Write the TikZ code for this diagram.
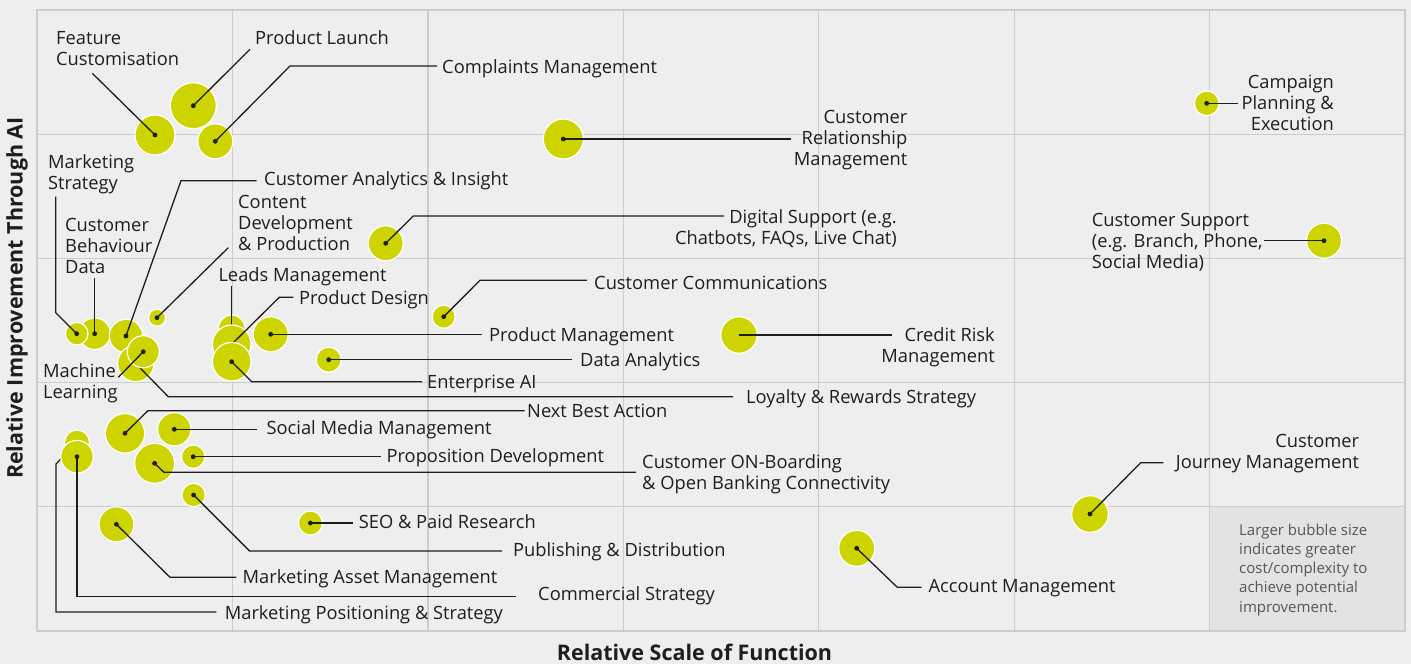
\documentclass[tikz,border=0pt]{standalone}
\usepackage{fontspec}
\setmainfont{Open Sans}
\definecolor{bg}{HTML}{EEEEEE}
\definecolor{gridc}{HTML}{CCCCCC}
\definecolor{notebg}{HTML}{E3E3E3}
\definecolor{bubc}{RGB}{205,212,0}
\definecolor{ink}{HTML}{1E1E1E}
\definecolor{notetext}{HTML}{555555}
\newcommand\bub[4]{\node[bubble, minimum size={2*#4pt}] (#1) at (#2,#3) {};}
\newcommand\bdot[1]{\fill[ink] (#1.center) circle (2.4pt);}
\begin{document}
\begin{tikzpicture}[x=1pt,y=-1pt,
  bubble/.style={circle, fill=bubc, draw=white, line width=1.2pt, inner sep=0pt, outer sep=0pt},
  lead/.style={draw=ink, line width=1.3pt},
  lab/.style={text=ink, inner sep=0pt, font=\fontsize{18.3}{21}\selectfont},
  labl/.style={lab, anchor=base west, align=left},
  labr/.style={lab, anchor=base east, align=right},
  gridl/.style={draw=gridc, line width=1.2pt},
  axl/.style={text=ink, inner sep=0pt, font=\fontsize{21.5}{26}\selectfont\bfseries},
  notet/.style={text=notetext, inner sep=0pt, anchor=base west, align=left, font=\fontsize{15}{19.3}\selectfont}
]
\useasboundingbox (0,0) rectangle (1411,664);
\fill[bg] (0,0) rectangle (1411,664);
\fill[notebg] (1209.6,506.8) rectangle (1405,631);
\foreach \x in {232.4,427.9,623.3,818.7,1014.1,1209.6} \draw[gridl] (\x,10) -- (\x,631);
\foreach \y in {134.2,258.4,382.6,506.8} \draw[gridl] (37,\y) -- (1405,\y);
\draw[gridl] (37,10) rectangle (1405,631);

% axis labels
\node[axl, anchor=base] (xlab) at (694.5,660) {Relative Scale of Function};
\node[axl, rotate=90] (ylab) at (17,298) {Relative Improvement Through AI};

% note
\node[notet] (note) at (1239,612.2) {Larger bubble size\\indicates greater\\cost/complexity to\\achieve potential\\improvement.};

% Feature Customisation
\bub{fc}{155}{135}{20}
\coordinate (fc-e) at (92.3,73.3);
\draw[lead] (fc.center) -- (fc-e);
\bdot{fc}
\node[labl] (fc-t) at (56,65.5) {Feature\\Customisation};

% Product Launch
\bub{pl}{193.3}{105.7}{23}
\coordinate (pl-e) at (250,49.3);
\draw[lead] (pl.center) -- (pl-e);
\bdot{pl}
\node[labl] (pl-t) at (255,44.5) {Product Launch};

% Complaints Management
\bub{cm}{215.3}{141.3}{17.5}
\coordinate (cm-k) at (290,66);
\coordinate (cm-e) at (437,66);
\draw[lead] (cm.center) -- (cm-k) -- (cm-e);
\bdot{cm}
\node[labl] (cm-t) at (442,73.5) {Complaints Management};

% Customer Relationship Management
\bub{crm}{563.3}{139}{20}
\coordinate (crm-e) at (791,139);
\draw[lead] (crm.center) -- (crm-e);
\bdot{crm}
\node[labr] (crm-t) at (907.5,165.5) {Customer\\Relationship\\Management};

% Campaign Planning & Execution
\bub{cpe}{1206.7}{103.3}{12.3}
\coordinate (cpe-e) at (1238.3,103.3);
\draw[lead] (cpe.center) -- (cpe-e);
\bdot{cpe}
\node[labr] (cpe-t) at (1334,130.5) {Campaign\\Planning \&\\Execution};

% Customer Support
\bub{cs}{1324}{240.7}{17.5}
\coordinate (cs-e) at (1263.5,240.7);
\draw[lead] (cs.center) -- (cs-e);
\bdot{cs}
\node[labl] (cs-t) at (1091.7,268.5) {Customer Support\\(e.g. Branch, Phone,\\Social Media)};

% Digital Support
\bub{ds}{385.7}{243.3}{17.5}
\coordinate (ds-k) at (413.3,216);
\coordinate (ds-e) at (724,216);
\draw[lead] (ds.center) -- (ds-k) -- (ds-e);
\bdot{ds}
\node[labr] (ds-t) at (897,244) {Digital Support (e.g.\\Chatbots, FAQs, Live Chat)};

% Customer Communications
\bub{cc}{443.7}{316.7}{11.5}
\coordinate (cc-k) at (480,280.3);
\coordinate (cc-e) at (587,280.3);
\draw[lead] (cc.center) -- (cc-k) -- (cc-e);
\bdot{cc}
\node[labl] (cc-t) at (594,289) {Customer Communications};

% Customer Behaviour Data
\bub{cbd}{94.7}{333.7}{15.8}
\coordinate (cbd-e) at (94.7,278.3);
\draw[lead] (cbd.center) -- (cbd-e);
\bdot{cbd}
\node[labl] (cbd-t) at (65,273) {Customer\\Behaviour\\Data};

% Marketing Strategy
\bub{ms}{76.7}{333.7}{11.3}
\coordinate (ms-k) at (55.7,312.7);
\coordinate (ms-e) at (55.7,196.7);
\draw[lead] (ms.center) -- (ms-k) -- (ms-e);
\bdot{ms}
\node[labl] (ms-t) at (48,189.5) {Marketing\\Strategy};

% Customer Analytics & Insight
\bub{cai}{126}{336}{16.7}
\coordinate (cai-k) at (181,180.7);
\coordinate (cai-e) at (256.7,180.7);
\draw[lead] (cai.center) -- (cai-k) -- (cai-e);
\bdot{cai}
\node[labl] (cai-t) at (264,185.5) {Customer Analytics \& Insight};

% Content Development & Production
\bub{cdp}{157}{317.7}{8.5}
\coordinate (cdp-e) at (228.3,247.7);
\draw[lead] (cdp.center) -- (cdp-e);
\bdot{cdp}
\node[labl] (cdp-t) at (238,250) {Content\\Development\\\& Production};

% Loyalty & Rewards Strategy
\bub{lrs}{135.8}{363.5}{18.2}
\coordinate (lrs-k) at (168.3,396.7);
\coordinate (lrs-e) at (733,396.7);
\draw[lead] (lrs.center) -- (lrs-k) -- (lrs-e);
\bdot{lrs}
\node[labl] (lrs-t) at (746,403) {Loyalty \& Rewards Strategy};

% Machine Learning
\bub{ml}{143.3}{351.7}{16}
\coordinate (ml-e) at (118.3,377.3);
\draw[lead] (ml.center) -- (ml-e);
\bdot{ml}
\node[labl] (ml-t) at (43,398) {Machine\\Learning};

% Leads Management
\bub{lm}{231.7}{328.3}{13.3}
\coordinate (lm-e) at (231.7,286);
\draw[lead] (lm.center) -- (lm-e);
\bdot{lm}
\node[labl] (lm-t) at (218.3,281.5) {Leads Management};

% Product Design
\bub{pd}{231.7}{344.3}{19.3}
\coordinate (pd-k) at (279.3,297.3);
\coordinate (pd-e) at (293.3,297.3);
\draw[lead] (pd.center) -- (pd-k) -- (pd-e);
\bdot{pd}
\node[labl] (pd-t) at (299,304) {Product Design};

% Enterprise AI
\bub{eai}{231.7}{361.7}{19.3}
\coordinate (eai-k) at (251.7,381.7);
\coordinate (eai-e) at (422,381.7);
\draw[lead] (eai.center) -- (eai-k) -- (eai-e);
\bdot{eai}
\node[labl] (eai-t) at (427,388) {Enterprise AI};

% Product Management
\bub{pm}{270.7}{334.3}{17.5}
\coordinate (pm-e) at (482,334.3);
\draw[lead] (pm.center) -- (pm-e);
\bdot{pm}
\node[labl] (pm-t) at (489,341.5) {Product Management};

% Data Analytics
\bub{da}{328.7}{359.7}{12.5}
\coordinate (da-e) at (572.3,359.7);
\draw[lead] (da.center) -- (da-e);
\bdot{da}
\node[labl] (da-t) at (580,366) {Data Analytics};

% Credit Risk Management
\bub{cr}{739}{335}{18.2}
\coordinate (cr-e) at (891.5,335);
\draw[lead] (cr.center) -- (cr-e);
\node[labr] (cr-t) at (995,362.5) {Credit Risk\\Management};

% Next Best Action
\bub{nba}{125}{433.3}{19.7}
\coordinate (nba-k) at (147.9,410.7);
\coordinate (nba-e) at (524.6,410.7);
\draw[lead] (nba.center) -- (nba-k) -- (nba-e);
\bdot{nba}
\node[labl] (nba-t) at (527,417.5) {Next Best Action};

% Social Media Management
\bub{smm}{174.3}{429.3}{16.7}
\coordinate (smm-e) at (256.8,429.3);
\draw[lead] (smm.center) -- (smm-e);
\bdot{smm}
\node[labl] (smm-t) at (266.4,434) {Social Media Management};

% Proposition Development
\bub{pdev}{193.2}{456.7}{11.7}
\coordinate (pdev-e) at (380.7,456.7);
\draw[lead] (pdev.center) -- (pdev-e);
\bdot{pdev}
\node[labl] (pdev-t) at (386.4,462) {Proposition Development};

% Customer ON-Boarding
\bub{cob}{154.6}{463.3}{20}
\coordinate (cob-k) at (164,472.3);
\coordinate (cob-e) at (636,472.3);
\draw[lead] (cob.center) -- (cob-k) -- (cob-e);
\bdot{cob}
\node[labl] (cob-t) at (642,489.5) {Customer ON-Boarding\\\& Open Banking Connectivity};

% Marketing Positioning & Strategy
\bub{mps}{77}{442.5}{12.5}
\coordinate (mps-k) at (56,464);
\coordinate (mps-c) at (56,612);
\coordinate (mps-e) at (216.4,612);
\draw[lead] (mps.center) -- (mps-k) -- (mps-c) -- (mps-e);
\node[labl] (mps-t) at (224.6,619) {Marketing Positioning \& Strategy};

% Commercial Strategy
\bub{cst}{77}{456.7}{16.3}
\coordinate (cst-c) at (77,596.7);
\coordinate (cst-e) at (515.7,596.7);
\draw[lead] (cst.center) -- (cst-c) -- (cst-e);
\bdot{cst}
\node[labl] (cst-t) at (538,600.5) {Commercial Strategy};

% Publishing & Distribution
\bub{pub}{193.6}{495}{11.7}
\coordinate (pub-k) at (249.6,551);
\coordinate (pub-e) at (502,551);
\draw[lead] (pub.center) -- (pub-k) -- (pub-e);
\bdot{pub}
\node[labl] (pub-t) at (512.9,556) {Publishing \& Distribution};

% SEO & Paid Research
\bub{seo}{310.4}{523}{12}
\coordinate (seo-e) at (352.5,523);
\draw[lead] (seo.center) -- (seo-e);
\bdot{seo}
\node[labl] (seo-t) at (358.6,528) {SEO \& Paid Research};

% Marketing Asset Management
\bub{mam}{116.4}{524.3}{17.5}
\coordinate (mam-k) at (170,577.3);
\coordinate (mam-e) at (236.4,577.3);
\draw[lead] (mam.center) -- (mam-k) -- (mam-e);
\bdot{mam}
\node[labl] (mam-t) at (242.5,583) {Marketing Asset Management};

% Account Management
\bub{am}{856.7}{548.3}{18}
\coordinate (am-k) at (897.3,587.3);
\coordinate (am-e) at (921.7,587.3);
\draw[lead] (am.center) -- (am-k) -- (am-e);
\bdot{am}
\node[labl] (am-t) at (928.3,592) {Account Management};

% Customer Journey Management
\bub{cjm}{1090}{514}{18.3}
\coordinate (cjm-k) at (1140.7,462.7);
\coordinate (cjm-e) at (1163.3,462.7);
\draw[lead] (cjm.center) -- (cjm-k) -- (cjm-e);
\bdot{cjm}
\node[labr] (cjm-t) at (1359.3,468) {Customer\\Journey Management};
\end{tikzpicture}
\end{document}
